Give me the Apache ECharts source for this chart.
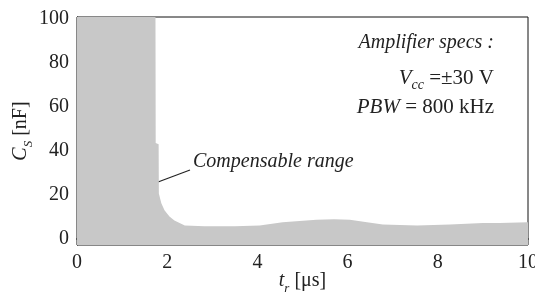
<!DOCTYPE html>
<html lang="en">
<head>
  <meta charset="UTF-8">
  <title>Compensable range</title>
  <script src="https://cdn.jsdelivr.net/npm/echarts@6/dist/echarts.min.js"></script>
  <style>
    html, body { margin: 0; padding: 0; background: #fff; }
  </style>
</head>
<body>
  <div id="chart" style="width: 535px; height: 294px;"></div>

  <script>
    // rise time t_r [us] and the largest compensable C_S [nF]
    var tData = [0, 1.74, 1.745, 1.81, 1.815, 1.87, 1.94, 2.05, 2.16, 2.39, 2.83, 3.5, 4.05, 4.56, 5.31, 5.7, 6.05, 6.43, 6.78, 7.54, 8.27, 9.0, 9.37, 9.38, 10];
    var csData = [101, 101, 43.5, 43, 20.5, 16, 12.8, 10, 8.2, 5.9, 5.5, 5.5, 5.9, 7.4, 8.5, 8.7, 8.5, 7.4, 6.3, 5.9, 6.4, 7.0, 7.0, 7.4, 7.4];
    var yTicks = [0, 20, 40, 60, 80, 100];

    var points = tData.map(function (t, i) { return [t, csData[i]]; });

    var serif = '"Liberation Serif", "DejaVu Serif", serif';

    var myChart = echarts.init(document.getElementById('chart'));

    myChart.setOption({
      animation: false,
      grid: {
        left: 77, right: 7, top: 17, bottom: 49,
        outerBoundsMode: 'none',
        show: true, borderColor: '#111', borderWidth: 1
      },
      xAxis: {
        type: 'value', min: 0, max: 10, interval: 2,
        name: '{i|t}{s|r} [\u03bcs]',
        nameLocation: 'middle', nameGap: 22, nameMoveOverlap: false,
        nameTextStyle: {
          fontFamily: serif, fontSize: 20, color: '#222',
          rich: {
            i: { fontFamily: serif, fontSize: 20, fontStyle: 'italic', color: '#222', lineHeight: 28 },
            s: { fontFamily: serif, fontSize: 13, fontStyle: 'italic', color: '#222', verticalAlign: 'bottom' }
          }
        },
        axisLine: { lineStyle: { color: '#444', width: 2 } },
        axisTick: { show: false },
        splitLine: { show: false },
        axisLabel: { fontFamily: serif, fontSize: 20, color: '#222', margin: 8 }
      },
      yAxis: {
        type: 'value', min: -3, max: 101,
        name: '{i|C}{s|S} [nF]',
        nameLocation: 'middle', nameGap: 42, nameRotate: 90, nameMoveOverlap: false,
        nameTextStyle: {
          fontFamily: serif, fontSize: 20, color: '#222',
          rich: {
            i: { fontFamily: serif, fontSize: 20, fontStyle: 'italic', color: '#222', lineHeight: 28 },
            s: { fontFamily: serif, fontSize: 13, fontStyle: 'italic', color: '#222', verticalAlign: 'bottom' }
          }
        },
        axisLine: { show: true, lineStyle: { color: '#111', width: 1 } },
        axisTick: { show: false },
        splitLine: { show: false },
        axisLabel: { customValues: yTicks, fontFamily: serif, fontSize: 20, color: '#222', margin: 8 }
      },
      series: [{
        type: 'line',
        data: points,
        showSymbol: false,
        lineStyle: { width: 0 },
        areaStyle: { color: '#c8c8c8', opacity: 1, origin: 'start' },
        z: 1
      }],
      graphic: [
        {
          type: 'text', right: 41, top: 33,
          style: { text: 'Amplifier specs :', font: 'italic 20px ' + serif, fill: '#222' }
        },
        {
          type: 'text', right: 41, top: 68,
          style: {
            text: '{i|V}{s|cc}{n| =\u00b130 V}',
            fill: '#222',
            rich: {
              i: { fontFamily: serif, fontSize: 21, fontStyle: 'italic', fill: '#222', lineHeight: 28 },
              s: { fontFamily: serif, fontSize: 14, fontStyle: 'italic', fill: '#222', verticalAlign: 'bottom' },
              n: { fontFamily: serif, fontSize: 21, fill: '#222' }
            }
          }
        },
        {
          type: 'text', right: 41, top: 97,
          style: {
            text: '{i|PBW} = 800 kHz',
            font: '21px ' + serif,
            fill: '#222',
            rich: {
              i: { fontFamily: serif, fontSize: 21, fontStyle: 'italic', fill: '#222' }
            }
          }
        },
        {
          type: 'text', left: 193, top: 152,
          style: { text: 'Compensable range', font: 'italic 20px ' + serif, fill: '#222' }
        },
        {
          type: 'line',
          shape: { x1: 158, y1: 182, x2: 190, y2: 170 },
          style: { stroke: '#222', lineWidth: 1.2 }
        }
      ]
    });
  </script>
</body>
</html>
